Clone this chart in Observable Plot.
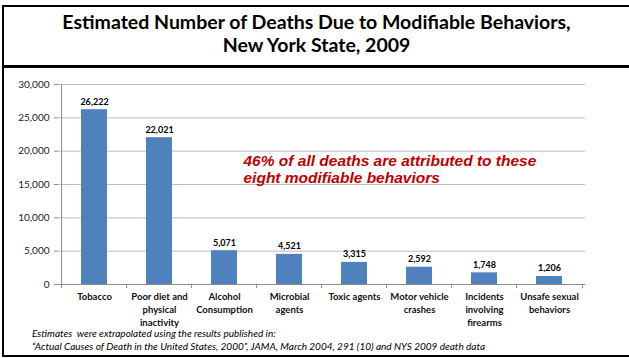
<!DOCTYPE html>
<html>
<head>
<meta charset="utf-8">
<script src="https://cdn.jsdelivr.net/npm/d3@7"></script>
<script src="https://cdn.jsdelivr.net/npm/@observablehq/plot@0.6"></script>
<style>
  html, body { margin: 0; padding: 0; background: #fff; width: 629px; height: 358px; overflow: hidden; }
  #frame { position: absolute; left: 2px; top: 5px; width: 700px; height: 352px; border: 2px solid #000; box-sizing: border-box; }
  #titlebar { position: absolute; left: 2px; top: 65px; width: 700px; height: 3px; background: #000; }
  #title { position: absolute; left: 4px; top: 10px; width: 625px; text-align: center; font-family: Lato, sans-serif; font-weight: bold; font-size: 19.5px; line-height: 23px; color: #000; }
  #chart { position: absolute; left: 0; top: 70px; }
  #foot { position: absolute; left: 32px; top: 327px; font-family: Lato, sans-serif; font-style: italic; font-size: 10px; line-height: 12.5px; color: #000; white-space: nowrap; }
</style>
</head>
<body>
<div id="frame"></div>
<div id="titlebar"></div>
<div id="title">Estimated Number of Deaths Due to Modifiable Behaviors,<br>New York State, 2009</div>
<div id="chart"></div>
<div id="foot">Estimates&nbsp; were extrapolated using the results published in:<br>“Actual Causes of Death in the United States, 2000”, JAMA, March 2004, 291 (10) and NYS 2009 death data</div>
<script>
const categories = ["Tobacco", "Poor diet and physical inactivity", "Alcohol Consumption", "Microbial agents", "Toxic agents", "Motor vehicle crashes", "Incidents involving firearms", "Unsafe sexual behaviors"];
const categoryLabels = ["Tobacco", "Poor diet and\nphysical\ninactivity", "Alcohol\nConsumption", "Microbial\nagents", "Toxic agents", "Motor vehicle\ncrashes", "Incidents\ninvolving\nfirearms", "Unsafe sexual\nbehaviors"];
const deaths = [26222, 22021, 5071, 4521, 3315, 2592, 1748, 1206];
const yTicks = [0, 5000, 10000, 15000, 20000, 25000, 30000];
const annotation = "46% of all deaths are attributed to these\neight modifiable behaviors";

const data = categories.map((c, i) => ({category: c, value: deaths[i]}));
const labelOf = new Map(categories.map((c, i) => [c, categoryLabels[i]]));

const W = 629, H = 262, mL = 58, mR = 44, mT = 14, mB = 48;
const step = (W - mL - mR) / categories.length;
const fmt = d3.format(",");

const chart = Plot.plot({
  width: W,
  height: H,
  marginLeft: mL,
  marginRight: mR,
  marginTop: mT,
  marginBottom: mB,
  style: {fontFamily: "Lato, sans-serif", fontSize: "10px", color: "#000", background: "transparent"},
  x: {domain: categories, paddingInner: 0.6, paddingOuter: 0.3, axis: null},
  y: {domain: [0, 30000], axis: null},
  marks: [
    Plot.ruleY(yTicks.slice(1), {stroke: "#bdbdbd", strokeWidth: 1}),
    Plot.barY(data, {x: "category", y: "value", fill: "#4f81bd"}),
    Plot.ruleY([0], {stroke: "#8c8c8c"}),
    Plot.ruleX([categories[0]], {y1: 0, y2: 30000, dx: -step / 2, stroke: "#8c8c8c"}),
    Plot.axisY({ticks: yTicks, tickFormat: fmt, tickSize: 4, tickPadding: 5, stroke: "#8c8c8c", fill: "#222", fontSize: 10, anchor: "left", label: null}),
    Plot.axisX({tickSize: 4, dx: -step / 2, tickFormat: () => "", stroke: "#8c8c8c", label: null}),
    Plot.axisX({ticks: [categories[categories.length - 1]], tickSize: 4, dx: step / 2, tickFormat: () => "", stroke: "#8c8c8c", label: null}),
    Plot.axisX({tickSize: 0, tickPadding: 6, tickFormat: (d) => labelOf.get(d), fontWeight: "bold", fontSize: 9.5, lineHeight: 1.38, fill: "#111", label: null}),
    Plot.text(data, {x: "category", y: "value", text: (d) => fmt(d.value), dy: -5, lineAnchor: "bottom", fontWeight: "bold", fontSize: 9, fill: "#000"}),
    Plot.text([annotation], {x: [categories[2]], y: [17300], text: (d) => d, textAnchor: "start", lineAnchor: "middle", dx: 19, fill: "#c00000", fontFamily: "Liberation Sans, Arial, sans-serif", fontWeight: "bold", fontStyle: "italic", fontSize: 15.5, lineHeight: 1.1})
  ]
});
document.getElementById("chart").appendChild(chart);
</script>
</body>
</html>
